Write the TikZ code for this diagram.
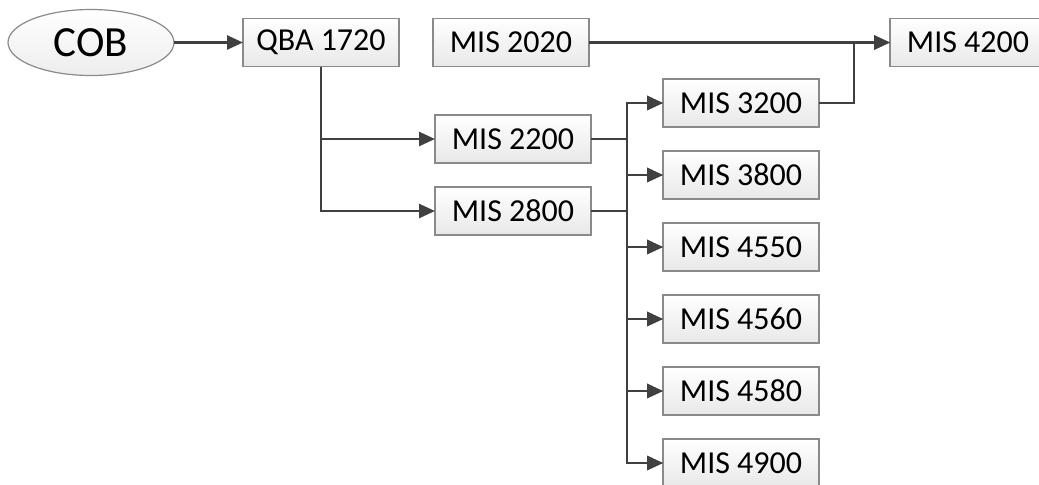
\documentclass[tikz,border=0pt]{standalone}
\usepackage{fontspec}
\setmainfont{Carlito}
\usetikzlibrary{positioning,arrows.meta,shapes.geometric}

\definecolor{linegray}{HTML}{404040}
\definecolor{edgegray}{HTML}{8A8A8A}

\begin{document}
\begin{tikzpicture}[
  x=0.5pt, y=-0.5pt,
  font=\fontsize{16}{19}\selectfont,
  box/.style={draw=edgegray, line width=0.7pt, top color=white, bottom color=black!9,
    minimum width=78pt, minimum height=24pt, inner sep=0pt, outer sep=0pt},
  start/.style={ellipse, draw=edgegray, line width=0.6pt, top color=white, bottom color=black!7,
    minimum width=83pt, minimum height=33pt, inner sep=0pt, outer sep=0pt,
    font=\fontsize{21.5}{24}\selectfont},
  arrow/.style={-{Triangle[length=8pt,width=7pt]}, draw=linegray, line width=1.3pt},
  node distance=12pt and 17pt
]
\useasboundingbox (0,0) rectangle (1039,484);

% Top row
\node[start] (cob) at (91,42.5) {COB};
\node[box] (qba) at (321,42.5) {QBA 1720};
\node[box, right=of qba] (m2020) {MIS 2020};
\node[box] (m4200) at (968,42.5) {MIS 4200};

% Second level
\node[box] (m2200) at (513,139) {MIS 2200};
\node[box, below=of m2200] (m2800) {MIS 2800};

% Right column
\node[box] (m3200) at (741,103) {MIS 3200};
\node[box, below=of m3200] (m3800) {MIS 3800};
\node[box, below=of m3800] (m4550) {MIS 4550};
\node[box, below=of m4550] (m4560) {MIS 4560};
\node[box, below=of m4560] (m4580) {MIS 4580};
\node[box, below=of m4580] (m4900) {MIS 4900};

% Junction points
\coordinate (split1) at (627,139);
\coordinate (split2) at (split1 |- m2800.east);
\coordinate (merge) at (854,42.5);

% Connectors
\draw[arrow] (cob.east) -- (qba.west);
\draw[arrow] (qba.south) |- (m2200.west);
\draw[arrow] (qba.south) |- (m2800.west);

\foreach \t in {m3200,m3800,m4550,m4560,m4580,m4900} {
  \draw[arrow] (m2200.east) -- (split1) |- (\t.west);
  \draw[arrow] (m2800.east) -- (split2) |- (\t.west);
}

\draw[arrow] (m2020.east) -- (m4200.west);
\draw[arrow] (m3200.east) -| (merge) -- (m4200.west);

\end{tikzpicture}
\end{document}
